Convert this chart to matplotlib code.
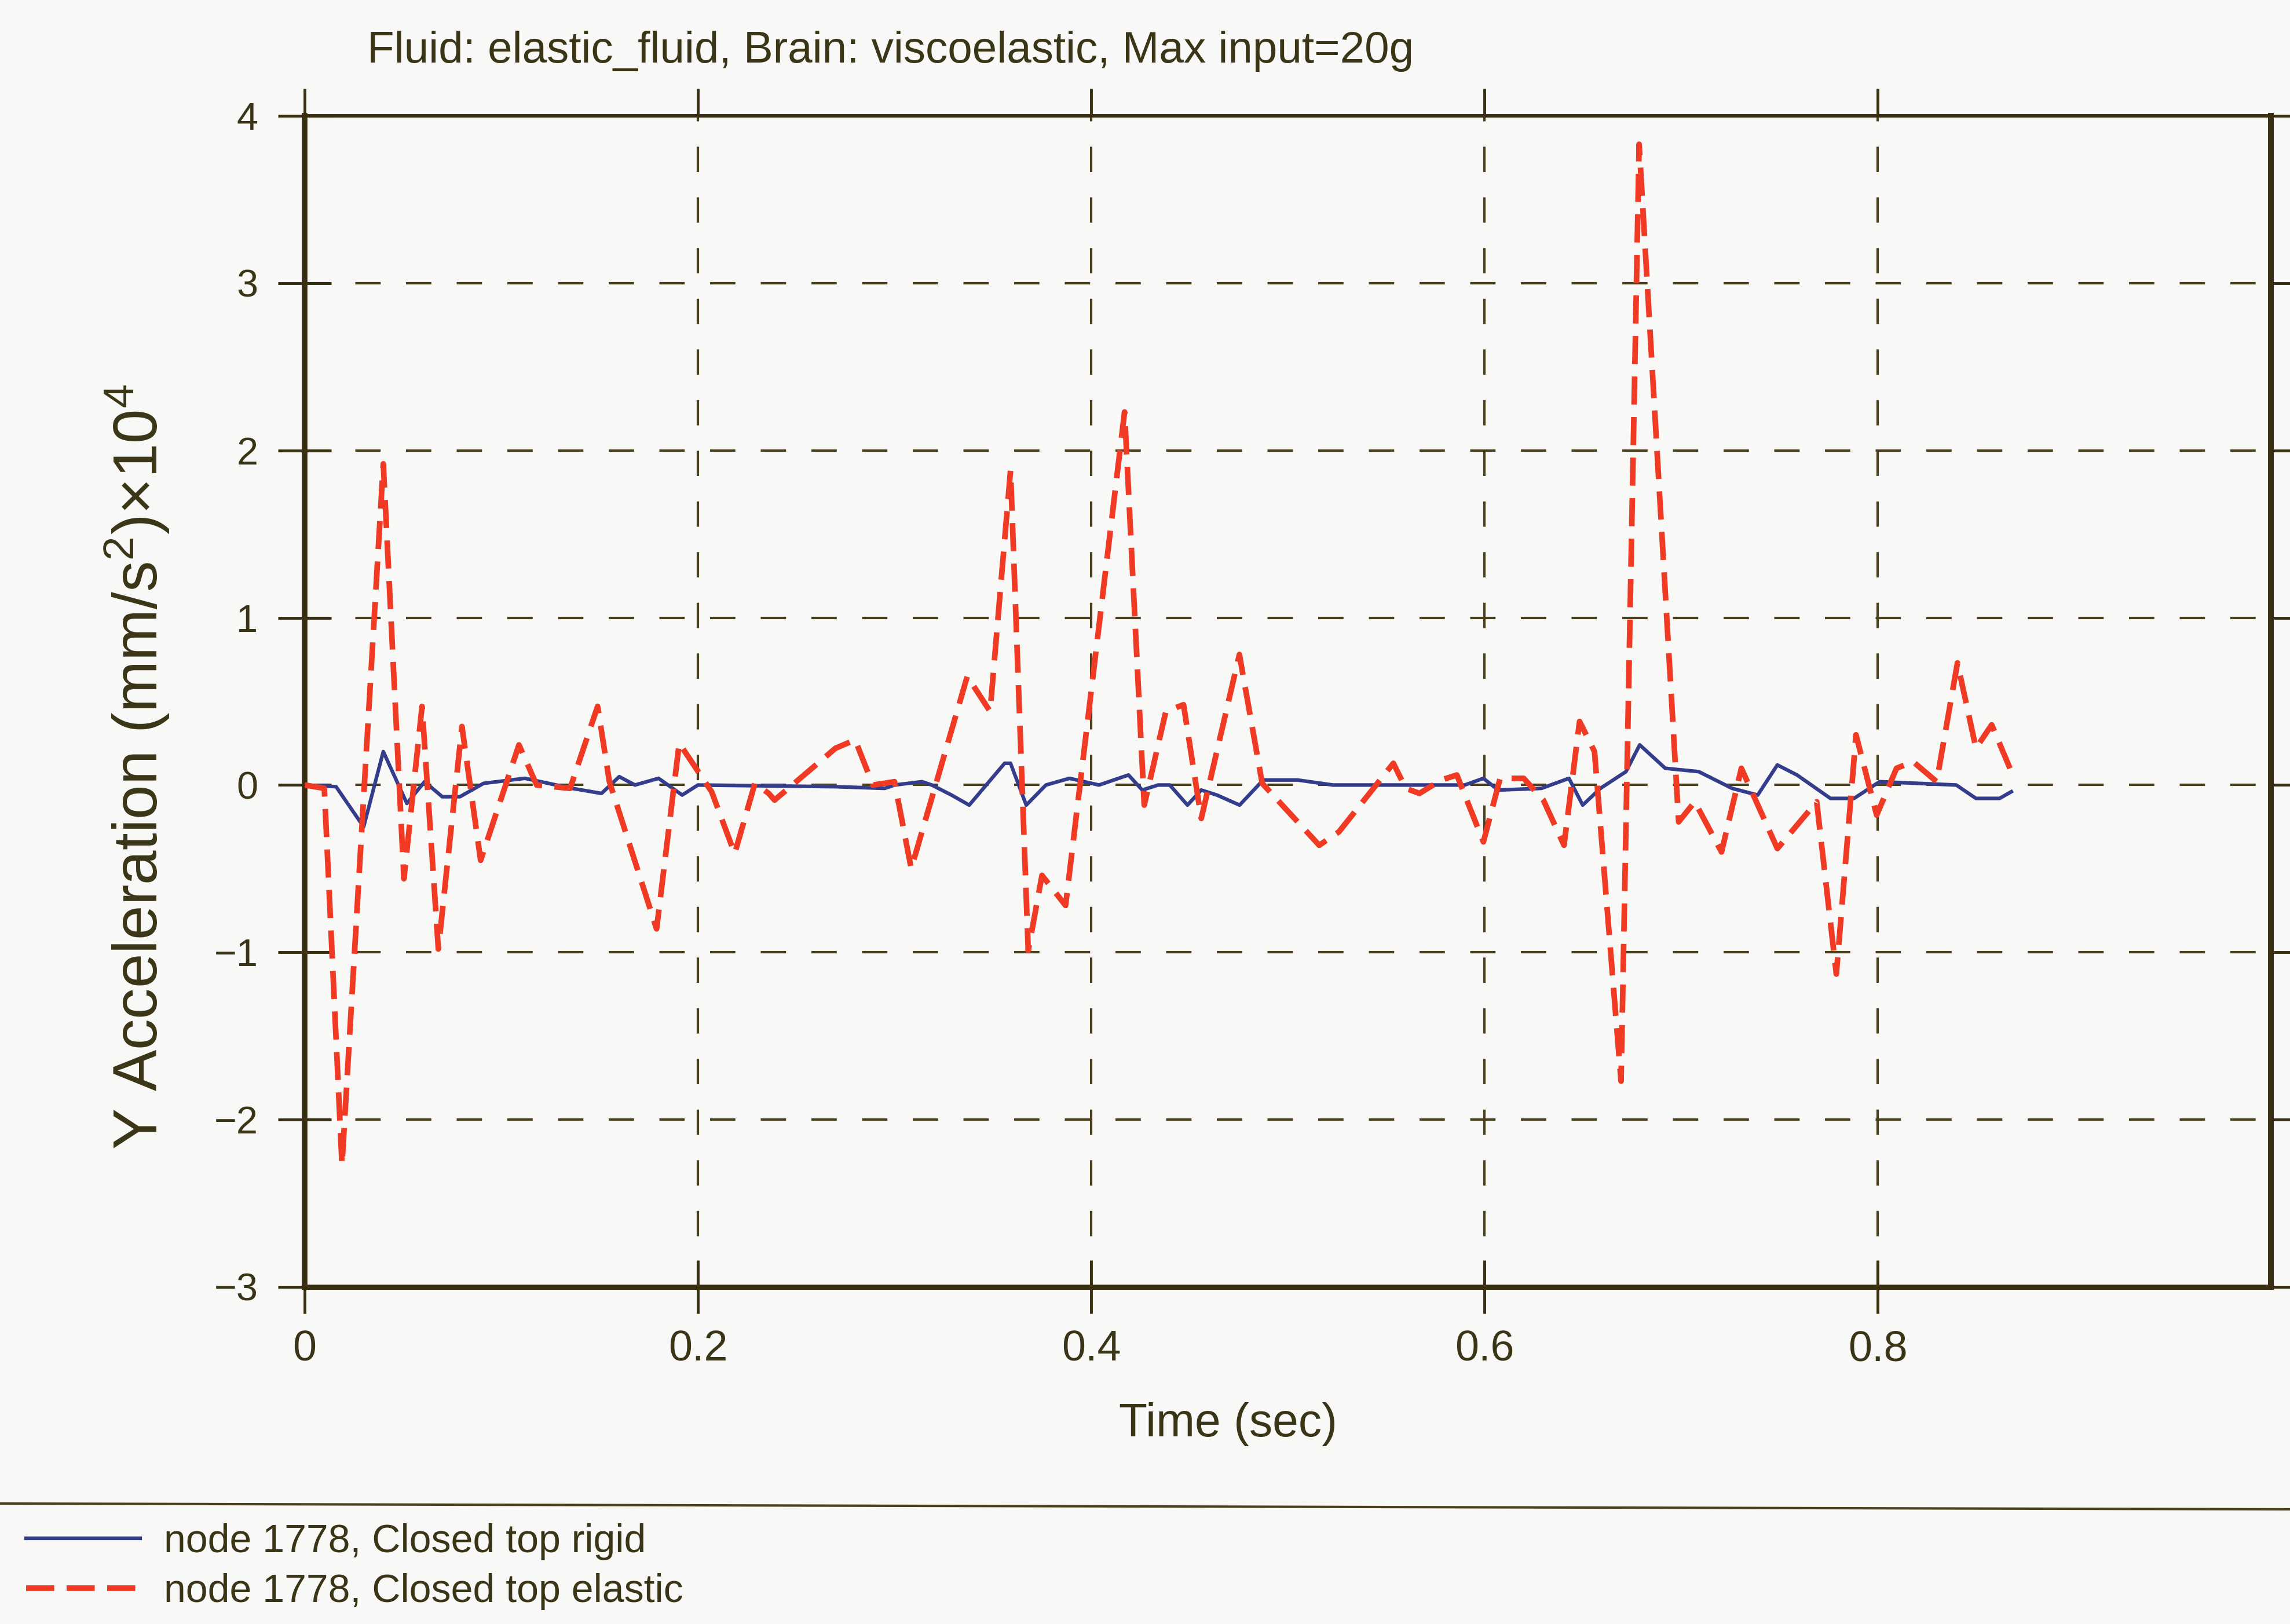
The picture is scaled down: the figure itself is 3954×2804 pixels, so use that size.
import matplotlib
matplotlib.use("Agg")
import matplotlib.pyplot as plt
import matplotlib.font_manager as fm
from matplotlib.lines import Line2D

# ---------------- data ----------------
t_elastic = [0.000, 0.010, 0.019, 0.040, 0.0505, 0.0597, 0.068, 0.080, 0.0895, 0.109,
             0.118, 0.135, 0.149, 0.155, 0.179, 0.1905, 0.207, 0.2187, 0.229, 0.236,
             0.239, 0.270, 0.280, 0.289, 0.300, 0.3085, 0.337, 0.3486, 0.359, 0.368,
             0.375, 0.387, 0.417, 0.427, 0.438, 0.447, 0.456, 0.4754, 0.487, 0.516,
             0.526, 0.5537, 0.560, 0.567, 0.578, 0.586, 0.5995, 0.608, 0.620, 0.630,
             0.6405, 0.6484, 0.656, 0.6695, 0.6787, 0.6988, 0.707, 0.7206, 0.7307, 0.749,
             0.769, 0.779, 0.789, 0.7995, 0.8096, 0.818, 0.830, 0.8406, 0.850, 0.858,
             0.868]
a_elastic = [0.00, -0.02, -2.27, 1.92, -0.56, 0.47, -0.98, 0.35, -0.45, 0.24,
             0.00, -0.02, 0.47, 0.02, -0.86, 0.25, -0.04, -0.41, 0.01, -0.05,
             -0.09, 0.22, 0.27, 0.00, 0.02, -0.50, 0.65, 0.44, 1.88, -0.99,
             -0.54, -0.72, 2.23, -0.12, 0.44, 0.48, -0.20, 0.78, 0.01, -0.36,
             -0.28, 0.13, -0.02, -0.05, 0.03, 0.06, -0.34, 0.04, 0.04, -0.09,
             -0.36, 0.38, 0.20, -1.77, 3.83, -0.22, -0.10, -0.40, 0.10, -0.38,
             -0.10, -1.13, 0.30, -0.18, 0.10, 0.14, 0.02, 0.73, 0.22, 0.36,
             0.08]

t_rigid = [0.000, 0.016, 0.030, 0.040, 0.052, 0.061, 0.070, 0.079, 0.091, 0.112,
           0.136, 0.151, 0.160, 0.168, 0.180, 0.192, 0.200, 0.270, 0.295, 0.300,
           0.314, 0.319, 0.329, 0.338, 0.356, 0.359, 0.367, 0.377, 0.389, 0.404,
           0.419, 0.426, 0.434, 0.440, 0.449, 0.456, 0.464, 0.4755, 0.4875, 0.505,
           0.523, 0.590, 0.5995, 0.607, 0.629, 0.643, 0.650, 0.659, 0.672, 0.679,
           0.692, 0.709, 0.726, 0.739, 0.749, 0.759, 0.776, 0.788, 0.801, 0.840,
           0.850, 0.862, 0.868]
a_rigid = [0.00, -0.01, -0.25, 0.20, -0.11, 0.02, -0.07, -0.07, 0.01, 0.04,
           -0.02, -0.05, 0.05, 0.00, 0.04, -0.06, 0.00, -0.01, -0.02, 0.00,
           0.02, 0.00, -0.06, -0.12, 0.13, 0.13, -0.12, 0.00, 0.04, 0.00,
           0.06, -0.03, 0.00, 0.00, -0.12, -0.03, -0.06, -0.12, 0.03, 0.03,
           0.00, 0.00, 0.04, -0.03, -0.02, 0.04, -0.12, -0.02, 0.08, 0.24,
           0.10, 0.08, -0.02, -0.06, 0.12, 0.06, -0.08, -0.08, 0.02, 0.00,
           -0.08, -0.08, -0.04]

x_ticks = [0, 0.2, 0.4, 0.6, 0.8]
x_ticklabels = ["0", "0.2", "0.4", "0.6", "0.8"]
y_ticks = [-3, -2, -1, 0, 1, 2, 3, 4]
y_ticklabels = ["\u22123", "\u22122", "\u22121", "0", "1", "2", "3", "4"]

title_text = "Fluid: elastic_fluid, Brain: viscoelastic, Max input=20g"
xlabel_text = "Time (sec)"
ylabel_text = "Y Acceleration (mm/s$^{2}$)\u00d710$^{4}$"
label_rigid = "node 1778, Closed top rigid"
label_elastic = "node 1778, Closed top elastic"

# ---------------- style ----------------
names = {f.name for f in fm.fontManager.ttflist}
REG = "Liberation Sans" if "Liberation Sans" in names else "DejaVu Sans"
NARROW = "Liberation Sans Narrow" if "Liberation Sans Narrow" in names else REG

plt.rcParams["font.family"] = [REG, "DejaVu Sans"]
plt.rcParams["mathtext.fontset"] = "custom"
plt.rcParams["mathtext.rm"] = REG
plt.rcParams["mathtext.it"] = REG + ":italic"
plt.rcParams["mathtext.bf"] = REG + ":bold"

BG = "#f8f8f6"
INK = "#3b3518"
AXC = "#382f12"
GRIDC = "#4a401c"
RED = "#f03a24"
BLUE = "#333d8c"

W, H = 3954, 2804
fig = plt.figure(figsize=(W / 100, H / 100), dpi=100, facecolor=BG)

ax_left, ax_right = 526 / W, 3921 / W
ax_top, ax_bottom = 1 - 200 / H, 1 - 2222 / H
ax = fig.add_axes([ax_left, ax_bottom, ax_right - ax_left, ax_top - ax_bottom])
ax.set_facecolor(BG)

ax.plot(t_rigid, a_rigid, color=BLUE, lw=4.5, label=label_rigid, zorder=3)
ax.plot(t_elastic, a_elastic, color=RED, lw=7.0, linestyle=(0, (5.0, 2.2)),
        label=label_elastic, zorder=4)

ax.set_xlim(0, 1)
ax.set_ylim(-3, 4)
ax.set_xticks(x_ticks)
ax.set_xticklabels(x_ticklabels, fontfamily=NARROW, fontsize=53, color=INK)
ax.set_yticks(y_ticks)
ax.set_yticklabels(y_ticklabels, fontfamily=REG, fontsize=48, color=INK)

ax.grid(True, color=GRIDC, lw=3.0, linestyle=(0, (10.5, 10.5)), zorder=1)
ax.set_axisbelow(True)

ax.tick_params(axis="both", direction="inout", length=66, width=3.5, color=AXC,
               top=False, right=False)
ax.tick_params(axis="x", pad=20)
ax.tick_params(axis="y", pad=25)

for side, lw in [("left", 7.0), ("bottom", 6.5), ("top", 4.0), ("right", 7.0)]:
    ax.spines[side].set_color(AXC)
    ax.spines[side].set_linewidth(lw)

secx = ax.secondary_xaxis("top")
secx.set_xticks(x_ticks)
secx.tick_params(axis="x", direction="out", length=34, width=3.5, color=AXC,
                 labeltop=False, labelbottom=False)
secx.spines["top"].set_color(AXC)
secx.spines["top"].set_linewidth(4.0)

secy = ax.secondary_yaxis("right")
secy.set_yticks(y_ticks)
secy.tick_params(axis="y", direction="out", length=34, width=3.5, color=AXC,
                 labelright=False, labelleft=False)
secy.spines["right"].set_color(AXC)
secy.spines["right"].set_linewidth(7.0)

# texts
fig.text(1538 / W, 1 - 88 / H, title_text, fontfamily=NARROW, fontsize=55,
         color=INK, ha="center", va="center")
fig.text(2121 / W, 1 - 2459 / H, xlabel_text, fontfamily=NARROW, fontsize=58,
         color=INK, ha="center", va="center")
fig.text(237 / W, 1 - 1324 / H, ylabel_text, fontfamily=REG, fontsize=77,
         color=INK, ha="center", va="center", rotation=90)

# separator line above legend
fig.add_artist(Line2D([0, 1], [1 - 2596 / H, 1 - 2606 / H], transform=fig.transFigure,
                      color=GRIDC, lw=3.0))

leg = fig.legend(loc="center left", bbox_to_anchor=(45 / W, 1 - 2705 / H),
                 frameon=False, prop={"family": REG, "size": 49},
                 handlelength=2.9, handletextpad=0.6, labelspacing=0.32,
                 borderpad=0, borderaxespad=0)
for txt in leg.get_texts():
    txt.set_color(INK)

fig.savefig("out.png", dpi=100, facecolor=BG)
